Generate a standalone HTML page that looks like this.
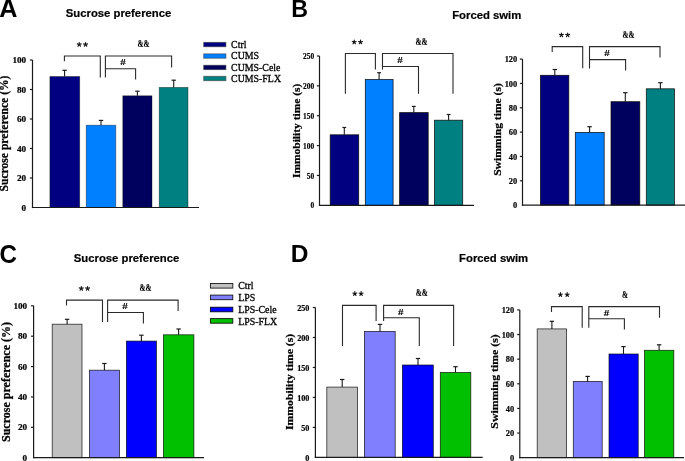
<!DOCTYPE html>
<html><head><meta charset="utf-8"><style>
html,body{margin:0;padding:0;background:#fff;}
svg{display:block;will-change:transform;}
</style></head><body>
<svg width="685" height="461" viewBox="0 0 685 461">
<rect width="685" height="461" fill="#fff"/>
<rect x="49.9" y="76.5" width="29.800000000000004" height="131.0" fill="#000080" stroke="#000" stroke-width="0.8" stroke-opacity="0.45"/>
<line x1="64.6" y1="76.5" x2="64.6" y2="70.3" stroke="#1a1a1a" stroke-width="1.1"/>
<line x1="62.39999999999999" y1="70.3" x2="66.8" y2="70.3" stroke="#1a1a1a" stroke-width="1.2"/>
<rect x="86.2" y="125.2" width="29.599999999999994" height="82.3" fill="#0080FF" stroke="#000" stroke-width="0.8" stroke-opacity="0.45"/>
<line x1="101" y1="125.2" x2="101" y2="120.4" stroke="#1a1a1a" stroke-width="1.1"/>
<line x1="98.8" y1="120.4" x2="103.2" y2="120.4" stroke="#1a1a1a" stroke-width="1.2"/>
<rect x="122.8" y="95.8" width="29.200000000000003" height="111.7" fill="#00005E" stroke="#000" stroke-width="0.8" stroke-opacity="0.45"/>
<line x1="137.4" y1="95.8" x2="137.4" y2="91.2" stroke="#1a1a1a" stroke-width="1.1"/>
<line x1="135.20000000000002" y1="91.2" x2="139.6" y2="91.2" stroke="#1a1a1a" stroke-width="1.2"/>
<rect x="159.2" y="87.4" width="28.80000000000001" height="120.1" fill="#008080" stroke="#000" stroke-width="0.8" stroke-opacity="0.45"/>
<line x1="173.7" y1="87.4" x2="173.7" y2="80.2" stroke="#1a1a1a" stroke-width="1.1"/>
<line x1="171.5" y1="80.2" x2="175.89999999999998" y2="80.2" stroke="#1a1a1a" stroke-width="1.2"/>
<line x1="32.5" y1="60" x2="32.5" y2="208.1" stroke="#1a1a1a" stroke-width="1.2"/>
<line x1="31.9" y1="207.5" x2="199" y2="207.5" stroke="#1a1a1a" stroke-width="1.2"/>
<text transform="translate(26.2,210.60) scale(1.0,1)" font-family='"Liberation Serif", serif' font-size="9.2" font-weight="bold" text-anchor="end" stroke="#000" stroke-width="0.2">0</text>
<line x1="29.9" y1="178.0" x2="32.5" y2="178.0" stroke="#1a1a1a" stroke-width="1.2"/>
<text transform="translate(26.2,181.10) scale(1.0,1)" font-family='"Liberation Serif", serif' font-size="9.2" font-weight="bold" text-anchor="end" stroke="#000" stroke-width="0.2">20</text>
<line x1="29.9" y1="148.5" x2="32.5" y2="148.5" stroke="#1a1a1a" stroke-width="1.2"/>
<text transform="translate(26.2,151.60) scale(1.0,1)" font-family='"Liberation Serif", serif' font-size="9.2" font-weight="bold" text-anchor="end" stroke="#000" stroke-width="0.2">40</text>
<line x1="29.9" y1="119.0" x2="32.5" y2="119.0" stroke="#1a1a1a" stroke-width="1.2"/>
<text transform="translate(26.2,122.10) scale(1.0,1)" font-family='"Liberation Serif", serif' font-size="9.2" font-weight="bold" text-anchor="end" stroke="#000" stroke-width="0.2">60</text>
<line x1="29.9" y1="89.5" x2="32.5" y2="89.5" stroke="#1a1a1a" stroke-width="1.2"/>
<text transform="translate(26.2,92.60) scale(1.0,1)" font-family='"Liberation Serif", serif' font-size="9.2" font-weight="bold" text-anchor="end" stroke="#000" stroke-width="0.2">80</text>
<line x1="29.9" y1="60.0" x2="32.5" y2="60.0" stroke="#1a1a1a" stroke-width="1.2"/>
<text transform="translate(26.2,63.10) scale(1.0,1)" font-family='"Liberation Serif", serif' font-size="9.2" font-weight="bold" text-anchor="end" stroke="#000" stroke-width="0.2">100</text>
<polyline points="64.4,61.3 64.4,56.0 100.3,56.0 100.3,77.6" fill="none" stroke="#2a2a2a" stroke-width="1.1" stroke-linejoin="miter" stroke-linecap="butt"/>
<polyline points="105.4,77.6 105.4,56.0 171.6,56.0 171.6,67.4" fill="none" stroke="#2a2a2a" stroke-width="1.1" stroke-linejoin="miter" stroke-linecap="butt"/>
<polyline points="105.4,68.7 135.6,68.7 135.6,79.5" fill="none" stroke="#2a2a2a" stroke-width="1.1" stroke-linejoin="miter" stroke-linecap="butt"/>
<path d="M79.25,44.50L79.25,42.45M79.25,44.50L81.20,43.87M79.25,44.50L80.45,46.16M79.25,44.50L78.05,46.16M79.25,44.50L77.30,43.87" stroke="#111" stroke-width="1.15" stroke-linecap="round" fill="none"/>
<path d="M85.55,44.50L85.55,42.45M85.55,44.50L87.50,43.87M85.55,44.50L86.75,46.16M85.55,44.50L84.35,46.16M85.55,44.50L83.60,43.87" stroke="#111" stroke-width="1.15" stroke-linecap="round" fill="none"/>
<text transform="translate(143.5,46.90) scale(0.77,1)" font-family='"Liberation Serif", serif' font-size="9.4" font-weight="bold" text-anchor="middle" stroke="#000" stroke-width="0.15">&amp;&amp;</text>
<text transform="translate(122.9,64.60) scale(1.25,1)" font-family='"Liberation Serif", serif' font-size="8.8" font-weight="bold" text-anchor="middle" stroke="#000" stroke-width="0.15">#</text>
<text transform="translate(8.4,133.5) rotate(-90) scale(1,1.0)" font-family='"Liberation Serif", serif' font-size="11.6" font-weight="bold" text-anchor="middle" stroke="#000" stroke-width="0.25">Sucrose preference (%)</text>
<rect x="52.2" y="324.2" width="29.799999999999997" height="133.5" fill="#C0C0C0" stroke="#000" stroke-width="0.8" stroke-opacity="0.8"/>
<line x1="67.1" y1="324.2" x2="67.1" y2="319.3" stroke="#1a1a1a" stroke-width="1.1"/>
<line x1="64.89999999999999" y1="319.3" x2="69.3" y2="319.3" stroke="#1a1a1a" stroke-width="1.2"/>
<rect x="89.4" y="370.2" width="30.099999999999994" height="87.5" fill="#8080FF" stroke="#000" stroke-width="0.8" stroke-opacity="0.8"/>
<line x1="104.4" y1="370.2" x2="104.4" y2="363.5" stroke="#1a1a1a" stroke-width="1.1"/>
<line x1="102.2" y1="363.5" x2="106.60000000000001" y2="363.5" stroke="#1a1a1a" stroke-width="1.2"/>
<rect x="126.4" y="341.1" width="30.0" height="116.59999999999997" fill="#0000FF" stroke="#000" stroke-width="0.8" stroke-opacity="0.8"/>
<line x1="141.4" y1="341.1" x2="141.4" y2="335.2" stroke="#1a1a1a" stroke-width="1.1"/>
<line x1="139.20000000000002" y1="335.2" x2="143.6" y2="335.2" stroke="#1a1a1a" stroke-width="1.2"/>
<rect x="163.4" y="334.8" width="30.5" height="122.89999999999998" fill="#00C000" stroke="#000" stroke-width="0.8" stroke-opacity="0.8"/>
<line x1="178.6" y1="334.8" x2="178.6" y2="329" stroke="#1a1a1a" stroke-width="1.1"/>
<line x1="176.4" y1="329" x2="180.79999999999998" y2="329" stroke="#1a1a1a" stroke-width="1.2"/>
<line x1="33.6" y1="305.8" x2="33.6" y2="458.3" stroke="#1a1a1a" stroke-width="1.2"/>
<line x1="33.0" y1="457.7" x2="204" y2="457.7" stroke="#1a1a1a" stroke-width="1.2"/>
<text transform="translate(27.2,460.80) scale(1.0,1)" font-family='"Liberation Serif", serif' font-size="9.2" font-weight="bold" text-anchor="end" stroke="#000" stroke-width="0.2">0</text>
<line x1="31.0" y1="427.32" x2="33.6" y2="427.32" stroke="#1a1a1a" stroke-width="1.2"/>
<text transform="translate(27.2,430.42) scale(1.0,1)" font-family='"Liberation Serif", serif' font-size="9.2" font-weight="bold" text-anchor="end" stroke="#000" stroke-width="0.2">20</text>
<line x1="31.0" y1="396.94" x2="33.6" y2="396.94" stroke="#1a1a1a" stroke-width="1.2"/>
<text transform="translate(27.2,400.04) scale(1.0,1)" font-family='"Liberation Serif", serif' font-size="9.2" font-weight="bold" text-anchor="end" stroke="#000" stroke-width="0.2">40</text>
<line x1="31.0" y1="366.56" x2="33.6" y2="366.56" stroke="#1a1a1a" stroke-width="1.2"/>
<text transform="translate(27.2,369.66) scale(1.0,1)" font-family='"Liberation Serif", serif' font-size="9.2" font-weight="bold" text-anchor="end" stroke="#000" stroke-width="0.2">60</text>
<line x1="31.0" y1="336.18" x2="33.6" y2="336.18" stroke="#1a1a1a" stroke-width="1.2"/>
<text transform="translate(27.2,339.28) scale(1.0,1)" font-family='"Liberation Serif", serif' font-size="9.2" font-weight="bold" text-anchor="end" stroke="#000" stroke-width="0.2">80</text>
<line x1="31.0" y1="305.8" x2="33.6" y2="305.8" stroke="#1a1a1a" stroke-width="1.2"/>
<text transform="translate(27.2,308.90) scale(1.0,1)" font-family='"Liberation Serif", serif' font-size="9.2" font-weight="bold" text-anchor="end" stroke="#000" stroke-width="0.2">100</text>
<polyline points="66.5,305.5 66.5,300.1 102.5,300.1 102.5,321.9" fill="none" stroke="#2a2a2a" stroke-width="1.1" stroke-linejoin="miter" stroke-linecap="butt"/>
<polyline points="107.6,321.9 107.6,300.1 178.1,300.1 178.1,311.1" fill="none" stroke="#2a2a2a" stroke-width="1.1" stroke-linejoin="miter" stroke-linecap="butt"/>
<polyline points="107.6,312.5 143.4,312.5 143.4,323.5" fill="none" stroke="#2a2a2a" stroke-width="1.1" stroke-linejoin="miter" stroke-linecap="butt"/>
<path d="M81.30,288.50L81.30,286.45M81.30,288.50L83.25,287.87M81.30,288.50L82.50,290.16M81.30,288.50L80.10,290.16M81.30,288.50L79.35,287.87" stroke="#111" stroke-width="1.15" stroke-linecap="round" fill="none"/>
<path d="M87.60,288.50L87.60,286.45M87.60,288.50L89.55,287.87M87.60,288.50L88.80,290.16M87.60,288.50L86.40,290.16M87.60,288.50L85.65,287.87" stroke="#111" stroke-width="1.15" stroke-linecap="round" fill="none"/>
<text transform="translate(145.5,290.90) scale(0.77,1)" font-family='"Liberation Serif", serif' font-size="9.4" font-weight="bold" text-anchor="middle" stroke="#000" stroke-width="0.15">&amp;&amp;</text>
<text transform="translate(125.0,308.70) scale(1.25,1)" font-family='"Liberation Serif", serif' font-size="8.8" font-weight="bold" text-anchor="middle" stroke="#000" stroke-width="0.15">#</text>
<text transform="translate(9.9,382) rotate(-90) scale(1,1.0)" font-family='"Liberation Serif", serif' font-size="12.0" font-weight="bold" text-anchor="middle" stroke="#000" stroke-width="0.25">Sucrose preference (%)</text>
<rect x="330.2" y="134.8" width="28.5" height="70.5" fill="#000080" stroke="#000" stroke-width="0.8" stroke-opacity="0.85"/>
<line x1="344.3" y1="134.8" x2="344.3" y2="127.5" stroke="#1a1a1a" stroke-width="1.1"/>
<line x1="342.40000000000003" y1="127.5" x2="346.2" y2="127.5" stroke="#1a1a1a" stroke-width="1.2"/>
<rect x="365.3" y="79.5" width="27.80000000000001" height="125.80000000000001" fill="#0080FF" stroke="#000" stroke-width="0.8" stroke-opacity="0.85"/>
<line x1="379.1" y1="79.5" x2="379.1" y2="72.7" stroke="#1a1a1a" stroke-width="1.1"/>
<line x1="377.20000000000005" y1="72.7" x2="381.0" y2="72.7" stroke="#1a1a1a" stroke-width="1.2"/>
<rect x="399.6" y="112.6" width="28.599999999999966" height="92.70000000000002" fill="#00005E" stroke="#000" stroke-width="0.8" stroke-opacity="0.85"/>
<line x1="413.8" y1="112.6" x2="413.8" y2="106.4" stroke="#1a1a1a" stroke-width="1.1"/>
<line x1="411.90000000000003" y1="106.4" x2="415.7" y2="106.4" stroke="#1a1a1a" stroke-width="1.2"/>
<rect x="434.5" y="120.2" width="28.19999999999999" height="85.10000000000001" fill="#008080" stroke="#000" stroke-width="0.8" stroke-opacity="0.85"/>
<line x1="448.6" y1="120.2" x2="448.6" y2="114.5" stroke="#1a1a1a" stroke-width="1.1"/>
<line x1="446.70000000000005" y1="114.5" x2="450.5" y2="114.5" stroke="#1a1a1a" stroke-width="1.2"/>
<line x1="319.5" y1="56" x2="319.5" y2="205.9" stroke="#1a1a1a" stroke-width="1.2"/>
<line x1="318.9" y1="205.3" x2="474" y2="205.3" stroke="#1a1a1a" stroke-width="1.2"/>
<text transform="translate(314.2,208.40) scale(0.85,1)" font-family='"Liberation Serif", serif' font-size="8.7" font-weight="bold" text-anchor="end" stroke="#000" stroke-width="0.2">0</text>
<line x1="316.9" y1="175.44" x2="319.5" y2="175.44" stroke="#1a1a1a" stroke-width="1.2"/>
<text transform="translate(314.2,178.54) scale(0.85,1)" font-family='"Liberation Serif", serif' font-size="8.7" font-weight="bold" text-anchor="end" stroke="#000" stroke-width="0.2">50</text>
<line x1="316.9" y1="145.58" x2="319.5" y2="145.58" stroke="#1a1a1a" stroke-width="1.2"/>
<text transform="translate(314.2,148.68) scale(0.85,1)" font-family='"Liberation Serif", serif' font-size="8.7" font-weight="bold" text-anchor="end" stroke="#000" stroke-width="0.2">100</text>
<line x1="316.9" y1="115.72" x2="319.5" y2="115.72" stroke="#1a1a1a" stroke-width="1.2"/>
<text transform="translate(314.2,118.82) scale(0.85,1)" font-family='"Liberation Serif", serif' font-size="8.7" font-weight="bold" text-anchor="end" stroke="#000" stroke-width="0.2">150</text>
<line x1="316.9" y1="85.86" x2="319.5" y2="85.86" stroke="#1a1a1a" stroke-width="1.2"/>
<text transform="translate(314.2,88.96) scale(0.85,1)" font-family='"Liberation Serif", serif' font-size="8.7" font-weight="bold" text-anchor="end" stroke="#000" stroke-width="0.2">200</text>
<line x1="316.9" y1="56.0" x2="319.5" y2="56.0" stroke="#1a1a1a" stroke-width="1.2"/>
<text transform="translate(314.2,59.10) scale(0.85,1)" font-family='"Liberation Serif", serif' font-size="8.7" font-weight="bold" text-anchor="end" stroke="#000" stroke-width="0.2">250</text>
<polyline points="345.4,93.7 345.4,53.5 375.4,53.5 375.4,69.4" fill="none" stroke="#2a2a2a" stroke-width="1.1" stroke-linejoin="miter" stroke-linecap="butt"/>
<polyline points="382.5,69.4 382.5,53.5 453,53.5 453,93.8" fill="none" stroke="#2a2a2a" stroke-width="1.1" stroke-linejoin="miter" stroke-linecap="butt"/>
<polyline points="382.5,66.5 418.5,66.5 418.5,93.8" fill="none" stroke="#2a2a2a" stroke-width="1.1" stroke-linejoin="miter" stroke-linecap="butt"/>
<path d="M354.20,42.10L354.20,40.05M354.20,42.10L356.15,41.47M354.20,42.10L355.40,43.76M354.20,42.10L353.00,43.76M354.20,42.10L352.25,41.47" stroke="#111" stroke-width="1.15" stroke-linecap="round" fill="none"/>
<path d="M360.50,42.10L360.50,40.05M360.50,42.10L362.45,41.47M360.50,42.10L361.70,43.76M360.50,42.10L359.30,43.76M360.50,42.10L358.55,41.47" stroke="#111" stroke-width="1.15" stroke-linecap="round" fill="none"/>
<text transform="translate(421.5,44.50) scale(0.77,1)" font-family='"Liberation Serif", serif' font-size="9.4" font-weight="bold" text-anchor="middle" stroke="#000" stroke-width="0.15">&amp;&amp;</text>
<text transform="translate(400.0,63.10) scale(1.25,1)" font-family='"Liberation Serif", serif' font-size="8.8" font-weight="bold" text-anchor="middle" stroke="#000" stroke-width="0.15">#</text>
<text transform="translate(299.6,130.9) rotate(-90) scale(1,0.85)" font-family='"Liberation Serif", serif' font-size="11.5" font-weight="bold" text-anchor="middle" stroke="#000" stroke-width="0.25">Immobility time (s)</text>
<rect x="540.4" y="75.3" width="28.399999999999977" height="129.8" fill="#000080" stroke="#000" stroke-width="0.8" stroke-opacity="0.85"/>
<line x1="554.8" y1="75.3" x2="554.8" y2="69.5" stroke="#1a1a1a" stroke-width="1.1"/>
<line x1="552.5999999999999" y1="69.5" x2="557.0" y2="69.5" stroke="#1a1a1a" stroke-width="1.2"/>
<rect x="575.3" y="132.4" width="28.90000000000009" height="72.69999999999999" fill="#0080FF" stroke="#000" stroke-width="0.8" stroke-opacity="0.85"/>
<line x1="589.6" y1="132.4" x2="589.6" y2="126.7" stroke="#1a1a1a" stroke-width="1.1"/>
<line x1="587.4" y1="126.7" x2="591.8000000000001" y2="126.7" stroke="#1a1a1a" stroke-width="1.2"/>
<rect x="611" y="101.7" width="28.799999999999955" height="103.39999999999999" fill="#00005E" stroke="#000" stroke-width="0.8" stroke-opacity="0.85"/>
<line x1="625.3" y1="101.7" x2="625.3" y2="92.7" stroke="#1a1a1a" stroke-width="1.1"/>
<line x1="623.0999999999999" y1="92.7" x2="627.5" y2="92.7" stroke="#1a1a1a" stroke-width="1.2"/>
<rect x="646.3" y="88.8" width="28.200000000000045" height="116.3" fill="#008080" stroke="#000" stroke-width="0.8" stroke-opacity="0.85"/>
<line x1="660.4" y1="88.8" x2="660.4" y2="82.7" stroke="#1a1a1a" stroke-width="1.1"/>
<line x1="658.1999999999999" y1="82.7" x2="662.6" y2="82.7" stroke="#1a1a1a" stroke-width="1.2"/>
<line x1="522.5" y1="59.1" x2="522.5" y2="205.7" stroke="#1a1a1a" stroke-width="1.2"/>
<line x1="521.9" y1="205.1" x2="685" y2="205.1" stroke="#1a1a1a" stroke-width="1.2"/>
<text transform="translate(517.2,208.20) scale(0.93,1)" font-family='"Liberation Serif", serif' font-size="9.0" font-weight="bold" text-anchor="end" stroke="#000" stroke-width="0.2">0</text>
<line x1="519.9" y1="180.76666666666665" x2="522.5" y2="180.76666666666665" stroke="#1a1a1a" stroke-width="1.2"/>
<text transform="translate(517.2,183.87) scale(0.93,1)" font-family='"Liberation Serif", serif' font-size="9.0" font-weight="bold" text-anchor="end" stroke="#000" stroke-width="0.2">20</text>
<line x1="519.9" y1="156.43333333333334" x2="522.5" y2="156.43333333333334" stroke="#1a1a1a" stroke-width="1.2"/>
<text transform="translate(517.2,159.53) scale(0.93,1)" font-family='"Liberation Serif", serif' font-size="9.0" font-weight="bold" text-anchor="end" stroke="#000" stroke-width="0.2">40</text>
<line x1="519.9" y1="132.1" x2="522.5" y2="132.1" stroke="#1a1a1a" stroke-width="1.2"/>
<text transform="translate(517.2,135.20) scale(0.93,1)" font-family='"Liberation Serif", serif' font-size="9.0" font-weight="bold" text-anchor="end" stroke="#000" stroke-width="0.2">60</text>
<line x1="519.9" y1="107.76666666666667" x2="522.5" y2="107.76666666666667" stroke="#1a1a1a" stroke-width="1.2"/>
<text transform="translate(517.2,110.87) scale(0.93,1)" font-family='"Liberation Serif", serif' font-size="9.0" font-weight="bold" text-anchor="end" stroke="#000" stroke-width="0.2">80</text>
<line x1="519.9" y1="83.43333333333334" x2="522.5" y2="83.43333333333334" stroke="#1a1a1a" stroke-width="1.2"/>
<text transform="translate(517.2,86.53) scale(0.93,1)" font-family='"Liberation Serif", serif' font-size="9.0" font-weight="bold" text-anchor="end" stroke="#000" stroke-width="0.2">100</text>
<line x1="519.9" y1="59.099999999999994" x2="522.5" y2="59.099999999999994" stroke="#1a1a1a" stroke-width="1.2"/>
<text transform="translate(517.2,62.20) scale(0.93,1)" font-family='"Liberation Serif", serif' font-size="9.0" font-weight="bold" text-anchor="end" stroke="#000" stroke-width="0.2">120</text>
<polyline points="552.2,52 552.2,46.6 582.7,46.6 582.7,68.3" fill="none" stroke="#2a2a2a" stroke-width="1.1" stroke-linejoin="miter" stroke-linecap="butt"/>
<polyline points="589.5,68.5 589.5,46.6 660,46.6 660,57.6" fill="none" stroke="#2a2a2a" stroke-width="1.1" stroke-linejoin="miter" stroke-linecap="butt"/>
<polyline points="589.5,59.6 625.6,59.6 625.6,70.5" fill="none" stroke="#2a2a2a" stroke-width="1.1" stroke-linejoin="miter" stroke-linecap="butt"/>
<path d="M561.40,35.00L561.40,32.95M561.40,35.00L563.35,34.37M561.40,35.00L562.60,36.66M561.40,35.00L560.20,36.66M561.40,35.00L559.45,34.37" stroke="#111" stroke-width="1.15" stroke-linecap="round" fill="none"/>
<path d="M567.70,35.00L567.70,32.95M567.70,35.00L569.65,34.37M567.70,35.00L568.90,36.66M567.70,35.00L566.50,36.66M567.70,35.00L565.75,34.37" stroke="#111" stroke-width="1.15" stroke-linecap="round" fill="none"/>
<text transform="translate(628.5,37.50) scale(0.77,1)" font-family='"Liberation Serif", serif' font-size="9.4" font-weight="bold" text-anchor="middle" stroke="#000" stroke-width="0.15">&amp;&amp;</text>
<text transform="translate(607.0,56.40) scale(1.25,1)" font-family='"Liberation Serif", serif' font-size="8.8" font-weight="bold" text-anchor="middle" stroke="#000" stroke-width="0.15">#</text>
<text transform="translate(501,129.5) rotate(-90) scale(1,0.9)" font-family='"Liberation Serif", serif' font-size="11.6" font-weight="bold" text-anchor="middle" stroke="#000" stroke-width="0.25">Swimming time (s)</text>
<rect x="326.8" y="387.1" width="30.599999999999966" height="70.29999999999995" fill="#C0C0C0" stroke="#000" stroke-width="0.8" stroke-opacity="0.8"/>
<line x1="342.2" y1="387.1" x2="342.2" y2="379.5" stroke="#1a1a1a" stroke-width="1.1"/>
<line x1="340.0" y1="379.5" x2="344.4" y2="379.5" stroke="#1a1a1a" stroke-width="1.2"/>
<rect x="364.4" y="331.4" width="30.80000000000001" height="126.0" fill="#8080FF" stroke="#000" stroke-width="0.8" stroke-opacity="0.8"/>
<line x1="380" y1="331.4" x2="380" y2="324.4" stroke="#1a1a1a" stroke-width="1.1"/>
<line x1="377.8" y1="324.4" x2="382.2" y2="324.4" stroke="#1a1a1a" stroke-width="1.2"/>
<rect x="402.4" y="365" width="30.900000000000034" height="92.39999999999998" fill="#0000FF" stroke="#000" stroke-width="0.8" stroke-opacity="0.8"/>
<line x1="418" y1="365" x2="418" y2="358.5" stroke="#1a1a1a" stroke-width="1.1"/>
<line x1="415.8" y1="358.5" x2="420.2" y2="358.5" stroke="#1a1a1a" stroke-width="1.2"/>
<rect x="440.3" y="372.5" width="30.5" height="84.89999999999998" fill="#00C000" stroke="#000" stroke-width="0.8" stroke-opacity="0.8"/>
<line x1="455.5" y1="372.5" x2="455.5" y2="366.7" stroke="#1a1a1a" stroke-width="1.1"/>
<line x1="453.3" y1="366.7" x2="457.7" y2="366.7" stroke="#1a1a1a" stroke-width="1.2"/>
<line x1="315.4" y1="307.5" x2="315.4" y2="458.0" stroke="#1a1a1a" stroke-width="1.2"/>
<line x1="314.79999999999995" y1="457.4" x2="482.7" y2="457.4" stroke="#1a1a1a" stroke-width="1.2"/>
<text transform="translate(309.4,460.50) scale(0.91,1)" font-family='"Liberation Serif", serif' font-size="9.0" font-weight="bold" text-anchor="end" stroke="#000" stroke-width="0.2">0</text>
<line x1="312.79999999999995" y1="427.41999999999996" x2="315.4" y2="427.41999999999996" stroke="#1a1a1a" stroke-width="1.2"/>
<text transform="translate(309.4,430.52) scale(0.91,1)" font-family='"Liberation Serif", serif' font-size="9.0" font-weight="bold" text-anchor="end" stroke="#000" stroke-width="0.2">50</text>
<line x1="312.79999999999995" y1="397.44" x2="315.4" y2="397.44" stroke="#1a1a1a" stroke-width="1.2"/>
<text transform="translate(309.4,400.54) scale(0.91,1)" font-family='"Liberation Serif", serif' font-size="9.0" font-weight="bold" text-anchor="end" stroke="#000" stroke-width="0.2">100</text>
<line x1="312.79999999999995" y1="367.46" x2="315.4" y2="367.46" stroke="#1a1a1a" stroke-width="1.2"/>
<text transform="translate(309.4,370.56) scale(0.91,1)" font-family='"Liberation Serif", serif' font-size="9.0" font-weight="bold" text-anchor="end" stroke="#000" stroke-width="0.2">150</text>
<line x1="312.79999999999995" y1="337.48" x2="315.4" y2="337.48" stroke="#1a1a1a" stroke-width="1.2"/>
<text transform="translate(309.4,340.58) scale(0.91,1)" font-family='"Liberation Serif", serif' font-size="9.0" font-weight="bold" text-anchor="end" stroke="#000" stroke-width="0.2">200</text>
<line x1="312.79999999999995" y1="307.5" x2="315.4" y2="307.5" stroke="#1a1a1a" stroke-width="1.2"/>
<text transform="translate(309.4,310.60) scale(0.91,1)" font-family='"Liberation Serif", serif' font-size="9.0" font-weight="bold" text-anchor="end" stroke="#000" stroke-width="0.2">250</text>
<polyline points="342.5,345.9 342.5,305.4 376.1,305.4 376.1,320.9" fill="none" stroke="#2a2a2a" stroke-width="1.1" stroke-linejoin="miter" stroke-linecap="butt"/>
<polyline points="383.6,320.9 383.6,305.4 453.6,305.4 453.6,345.9" fill="none" stroke="#2a2a2a" stroke-width="1.1" stroke-linejoin="miter" stroke-linecap="butt"/>
<polyline points="383.6,317.8 419.3,317.8 419.3,345.9" fill="none" stroke="#2a2a2a" stroke-width="1.1" stroke-linejoin="miter" stroke-linecap="butt"/>
<path d="M354.80,293.70L354.80,291.65M354.80,293.70L356.75,293.07M354.80,293.70L356.00,295.36M354.80,293.70L353.60,295.36M354.80,293.70L352.85,293.07" stroke="#111" stroke-width="1.15" stroke-linecap="round" fill="none"/>
<path d="M361.10,293.70L361.10,291.65M361.10,293.70L363.05,293.07M361.10,293.70L362.30,295.36M361.10,293.70L359.90,295.36M361.10,293.70L359.15,293.07" stroke="#111" stroke-width="1.15" stroke-linecap="round" fill="none"/>
<text transform="translate(421.75,296.30) scale(0.77,1)" font-family='"Liberation Serif", serif' font-size="9.4" font-weight="bold" text-anchor="middle" stroke="#000" stroke-width="0.15">&amp;&amp;</text>
<text transform="translate(400.7,314.80) scale(1.25,1)" font-family='"Liberation Serif", serif' font-size="8.8" font-weight="bold" text-anchor="middle" stroke="#000" stroke-width="0.15">#</text>
<text transform="translate(293.4,381.9) rotate(-90) scale(1,0.9)" font-family='"Liberation Serif", serif' font-size="11.7" font-weight="bold" text-anchor="middle" stroke="#000" stroke-width="0.25">Immobility time (s)</text>
<rect x="537.2" y="328.9" width="29.299999999999955" height="128.8" fill="#C0C0C0" stroke="#000" stroke-width="0.8" stroke-opacity="0.8"/>
<line x1="551.9" y1="328.9" x2="551.9" y2="321.3" stroke="#1a1a1a" stroke-width="1.1"/>
<line x1="549.6999999999999" y1="321.3" x2="554.1" y2="321.3" stroke="#1a1a1a" stroke-width="1.2"/>
<rect x="573.3" y="381.4" width="28.90000000000009" height="76.30000000000001" fill="#8080FF" stroke="#000" stroke-width="0.8" stroke-opacity="0.8"/>
<line x1="587.6" y1="381.4" x2="587.6" y2="376.4" stroke="#1a1a1a" stroke-width="1.1"/>
<line x1="585.4" y1="376.4" x2="589.8000000000001" y2="376.4" stroke="#1a1a1a" stroke-width="1.2"/>
<rect x="609" y="354" width="29.200000000000045" height="103.69999999999999" fill="#0000FF" stroke="#000" stroke-width="0.8" stroke-opacity="0.8"/>
<line x1="623.5" y1="354" x2="623.5" y2="346.6" stroke="#1a1a1a" stroke-width="1.1"/>
<line x1="621.3" y1="346.6" x2="625.7" y2="346.6" stroke="#1a1a1a" stroke-width="1.2"/>
<rect x="644.5" y="350.3" width="29.299999999999955" height="107.39999999999998" fill="#00C000" stroke="#000" stroke-width="0.8" stroke-opacity="0.8"/>
<line x1="659.1" y1="350.3" x2="659.1" y2="344.8" stroke="#1a1a1a" stroke-width="1.1"/>
<line x1="656.9" y1="344.8" x2="661.3000000000001" y2="344.8" stroke="#1a1a1a" stroke-width="1.2"/>
<line x1="519.8" y1="309.9" x2="519.8" y2="458.3" stroke="#1a1a1a" stroke-width="1.2"/>
<line x1="519.1999999999999" y1="457.7" x2="684" y2="457.7" stroke="#1a1a1a" stroke-width="1.2"/>
<text transform="translate(514.2,460.80) scale(0.93,1)" font-family='"Liberation Serif", serif' font-size="9.0" font-weight="bold" text-anchor="end" stroke="#000" stroke-width="0.2">0</text>
<line x1="517.1999999999999" y1="433.06666666666666" x2="519.8" y2="433.06666666666666" stroke="#1a1a1a" stroke-width="1.2"/>
<text transform="translate(514.2,436.17) scale(0.93,1)" font-family='"Liberation Serif", serif' font-size="9.0" font-weight="bold" text-anchor="end" stroke="#000" stroke-width="0.2">20</text>
<line x1="517.1999999999999" y1="408.43333333333334" x2="519.8" y2="408.43333333333334" stroke="#1a1a1a" stroke-width="1.2"/>
<text transform="translate(514.2,411.53) scale(0.93,1)" font-family='"Liberation Serif", serif' font-size="9.0" font-weight="bold" text-anchor="end" stroke="#000" stroke-width="0.2">40</text>
<line x1="517.1999999999999" y1="383.79999999999995" x2="519.8" y2="383.79999999999995" stroke="#1a1a1a" stroke-width="1.2"/>
<text transform="translate(514.2,386.90) scale(0.93,1)" font-family='"Liberation Serif", serif' font-size="9.0" font-weight="bold" text-anchor="end" stroke="#000" stroke-width="0.2">60</text>
<line x1="517.1999999999999" y1="359.16666666666663" x2="519.8" y2="359.16666666666663" stroke="#1a1a1a" stroke-width="1.2"/>
<text transform="translate(514.2,362.27) scale(0.93,1)" font-family='"Liberation Serif", serif' font-size="9.0" font-weight="bold" text-anchor="end" stroke="#000" stroke-width="0.2">80</text>
<line x1="517.1999999999999" y1="334.5333333333333" x2="519.8" y2="334.5333333333333" stroke="#1a1a1a" stroke-width="1.2"/>
<text transform="translate(514.2,337.63) scale(0.93,1)" font-family='"Liberation Serif", serif' font-size="9.0" font-weight="bold" text-anchor="end" stroke="#000" stroke-width="0.2">100</text>
<line x1="517.1999999999999" y1="309.9" x2="519.8" y2="309.9" stroke="#1a1a1a" stroke-width="1.2"/>
<text transform="translate(514.2,313.00) scale(0.93,1)" font-family='"Liberation Serif", serif' font-size="9.0" font-weight="bold" text-anchor="end" stroke="#000" stroke-width="0.2">120</text>
<polyline points="551.5,311.9 551.5,306.6 582.2,306.6 582.2,327.8" fill="none" stroke="#2a2a2a" stroke-width="1.1" stroke-linejoin="miter" stroke-linecap="butt"/>
<polyline points="588.8,327.8 588.8,306.6 659.5,306.6 659.5,317.8" fill="none" stroke="#2a2a2a" stroke-width="1.1" stroke-linejoin="miter" stroke-linecap="butt"/>
<polyline points="588.8,318.8 624.4,318.8 624.4,329.6" fill="none" stroke="#2a2a2a" stroke-width="1.1" stroke-linejoin="miter" stroke-linecap="butt"/>
<path d="M560.40,294.70L560.40,292.65M560.40,294.70L562.35,294.07M560.40,294.70L561.60,296.36M560.40,294.70L559.20,296.36M560.40,294.70L558.45,294.07" stroke="#111" stroke-width="1.15" stroke-linecap="round" fill="none"/>
<path d="M567.20,294.70L567.20,292.65M567.20,294.70L569.15,294.07M567.20,294.70L568.40,296.36M567.20,294.70L566.00,296.36M567.20,294.70L565.25,294.07" stroke="#111" stroke-width="1.15" stroke-linecap="round" fill="none"/>
<text transform="translate(624.9,297.50) scale(0.77,1)" font-family='"Liberation Serif", serif' font-size="9.4" font-weight="bold" text-anchor="middle" stroke="#000" stroke-width="0.15">&amp;</text>
<text transform="translate(606.5,316.10) scale(1.25,1)" font-family='"Liberation Serif", serif' font-size="8.8" font-weight="bold" text-anchor="middle" stroke="#000" stroke-width="0.15">#</text>
<text transform="translate(498.3,381.5) rotate(-90) scale(1,0.9)" font-family='"Liberation Serif", serif' font-size="11.8" font-weight="bold" text-anchor="middle" stroke="#000" stroke-width="0.25">Swimming time (s)</text>
<text transform="translate(-0.8,17.4) scale(1.0,1)" font-family='"Liberation Sans", sans-serif' font-size="25.2" font-weight="bold">A</text>
<text transform="translate(291.3,17.0) scale(0.95,1)" font-family='"Liberation Sans", sans-serif' font-size="24.5" font-weight="bold">B</text>
<text transform="translate(-0.4,262.8) scale(0.93,1)" font-family='"Liberation Sans", sans-serif' font-size="26" font-weight="bold">C</text>
<text transform="translate(290.8,261.8) scale(1.0,1)" font-family='"Liberation Sans", sans-serif' font-size="24.5" font-weight="bold">D</text>
<text x="65.8" y="16.9" font-family='"Liberation Sans", sans-serif' font-size="11.3" font-weight="bold" text-anchor="start" stroke="#000" stroke-width="0.2" >Sucrose preference</text>
<text x="73.8" y="261.5" font-family='"Liberation Sans", sans-serif' font-size="11.3" font-weight="bold" text-anchor="start" stroke="#000" stroke-width="0.2" >Sucrose preference</text>
<text x="452.2" y="18.7" font-family='"Liberation Sans", sans-serif' font-size="11.3" font-weight="bold" text-anchor="start" stroke="#000" stroke-width="0.2" >Forced swim</text>
<text x="459.1" y="262.2" font-family='"Liberation Sans", sans-serif' font-size="11.3" font-weight="bold" text-anchor="start" stroke="#000" stroke-width="0.2" >Forced swim</text>
<rect x="203.7" y="42.349999999999994" width="22.200000000000017" height="4.4" fill="#000080" stroke="#333" stroke-width="0.9" stroke-opacity="0.6"/>
<rect x="203.7" y="53.849999999999994" width="22.200000000000017" height="4.4" fill="#0080FF" stroke="#333" stroke-width="0.9" stroke-opacity="0.6"/>
<rect x="203.7" y="65.25" width="22.200000000000017" height="4.4" fill="#00005E" stroke="#333" stroke-width="0.9" stroke-opacity="0.6"/>
<rect x="203.7" y="76.3" width="22.200000000000017" height="4.4" fill="#008080" stroke="#333" stroke-width="0.9" stroke-opacity="0.6"/>
<text x="231.1" y="48.0" font-family='"Liberation Serif", serif' font-size="9.9" font-weight="normal" text-anchor="start" stroke="#000" stroke-width="0.3" >Ctrl</text>
<text x="231.1" y="59.3" font-family='"Liberation Serif", serif' font-size="9.9" font-weight="normal" text-anchor="start" stroke="#000" stroke-width="0.3" >CUMS</text>
<text x="231.1" y="71.0" font-family='"Liberation Serif", serif' font-size="9.9" font-weight="normal" text-anchor="start" stroke="#000" stroke-width="0.3" >CUMS-Cele</text>
<text x="231.1" y="82.1" font-family='"Liberation Serif", serif' font-size="9.9" font-weight="normal" text-anchor="start" stroke="#000" stroke-width="0.3" >CUMS-FLX</text>
<rect x="210.4" y="283.5" width="22.400000000000006" height="4.6" fill="#C0C0C0" stroke="#000" stroke-width="0.9" stroke-opacity="0.9"/>
<rect x="210.4" y="295.09999999999997" width="22.400000000000006" height="4.6" fill="#8080FF" stroke="#000" stroke-width="0.9" stroke-opacity="0.9"/>
<rect x="210.4" y="307.2" width="22.400000000000006" height="4.6" fill="#0000FF" stroke="#000" stroke-width="0.9" stroke-opacity="0.9"/>
<rect x="210.4" y="318.59999999999997" width="22.400000000000006" height="4.6" fill="#00C000" stroke="#000" stroke-width="0.9" stroke-opacity="0.9"/>
<text x="238.2" y="289.0" font-family='"Liberation Serif", serif' font-size="9.9" font-weight="normal" text-anchor="start" stroke="#000" stroke-width="0.3" >Ctrl</text>
<text x="238.2" y="300.7" font-family='"Liberation Serif", serif' font-size="9.9" font-weight="normal" text-anchor="start" stroke="#000" stroke-width="0.3" >LPS</text>
<text x="238.2" y="312.8" font-family='"Liberation Serif", serif' font-size="9.9" font-weight="normal" text-anchor="start" stroke="#000" stroke-width="0.3" >LPS-Cele</text>
<text x="238.2" y="324.5" font-family='"Liberation Serif", serif' font-size="9.9" font-weight="normal" text-anchor="start" stroke="#000" stroke-width="0.3" >LPS-FLX</text>
</svg>
</body></html>
